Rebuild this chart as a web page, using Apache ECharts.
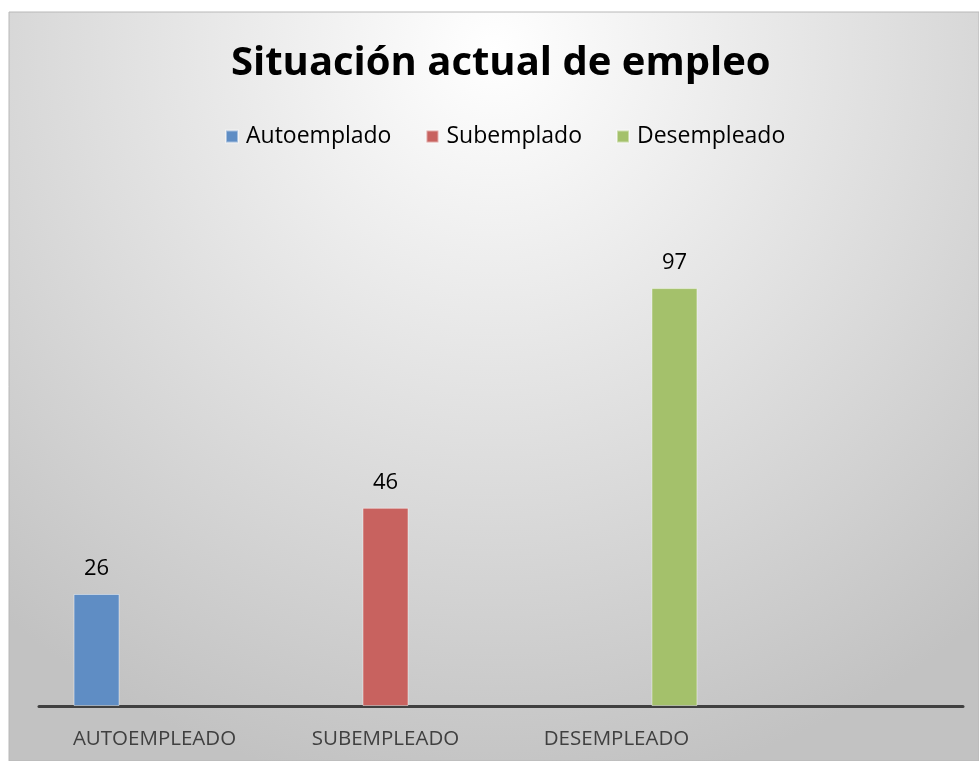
<!DOCTYPE html>
<html>
<head>
<meta charset="utf-8">
<script src="https://cdn.jsdelivr.net/npm/echarts@6/dist/echarts.min.js"></script>
<style>
  html, body { margin: 0; padding: 0; background: #fff; }
  #chart { width: 979px; height: 761px; }
</style>
</head>
<body>
<div id="chart"></div>
<script>
  var categories = ['AUTOEMPLEADO', 'SUBEMPLEADO', 'DESEMPLEADO', ''];
  var seriesNames = ['Autoemplado', 'Subemplado', 'Desempleado'];
  var autoValues = [26, null, null, null];
  var subValues = [null, 46, null, null];
  var desValues = [null, null, 97, null];
  var colors = ['#5F8DC4', '#C8625F', '#A4C16B'];

  var chart = echarts.init(document.getElementById('chart'));

  function makeSeries(name, data, color) {
    return {
      name: name,
      type: 'bar',
      barWidth: 46,
      barGap: '26%',
      data: data,
      itemStyle: {
        color: color,
        borderColor: 'rgba(255,255,255,0.45)',
        borderWidth: 1
      },
      label: {
        show: true,
        position: 'top',
        distance: 14,
        color: '#000',
        fontSize: 22,
        fontFamily: 'Open Sans'
      }
    };
  }

  var option = {
    backgroundColor: '#fff',
    graphic: [{
      type: 'rect',
      z: -10,
      silent: true,
      shape: { x: 9, y: 12, width: 970, height: 749 },
      style: {
        fill: new echarts.graphic.RadialGradient(0.5, 0.05, 1.0, [
          { offset: 0, color: '#ffffff' },
          { offset: 1, color: '#c2c2c2' }
        ]),
        stroke: '#b8b8b8',
        lineWidth: 1
      }
    }],
    title: {
      text: 'Situación actual de empleo',
      left: 226,
      top: 39,
      textStyle: {
        fontFamily: 'Open Sans',
        fontWeight: 'bold',
        fontSize: 40,
        color: '#000'
      }
    },
    legend: {
      data: seriesNames,
      top: 120,
      left: 220,
      icon: 'rect',
      itemWidth: 12,
      itemHeight: 12,
      itemGap: 34,
      textStyle: {
        fontFamily: 'Open Sans',
        fontSize: 23,
        color: '#000',
        padding: [0, 0, 0, 3]
      }
    },
    grid: {
      left: 39,
      right: 16,
      top: 189,
      bottom: 55,
      containLabel: false
    },
    xAxis: {
      type: 'category',
      data: categories,
      axisTick: { show: false },
      axisLine: { lineStyle: { color: '#404040', width: 3 } },
      axisLabel: {
        margin: 23,
        color: '#404040',
        fontSize: 20.5,
        fontFamily: 'Open Sans'
      }
    },
    yAxis: {
      type: 'value',
      min: 0,
      max: 120,
      show: false,
      splitLine: { show: false }
    },
    series: [
      makeSeries(seriesNames[0], autoValues, colors[0]),
      makeSeries(seriesNames[1], subValues, colors[1]),
      makeSeries(seriesNames[2], desValues, colors[2])
    ]
  };

  chart.setOption(option);
</script>
</body>
</html>
